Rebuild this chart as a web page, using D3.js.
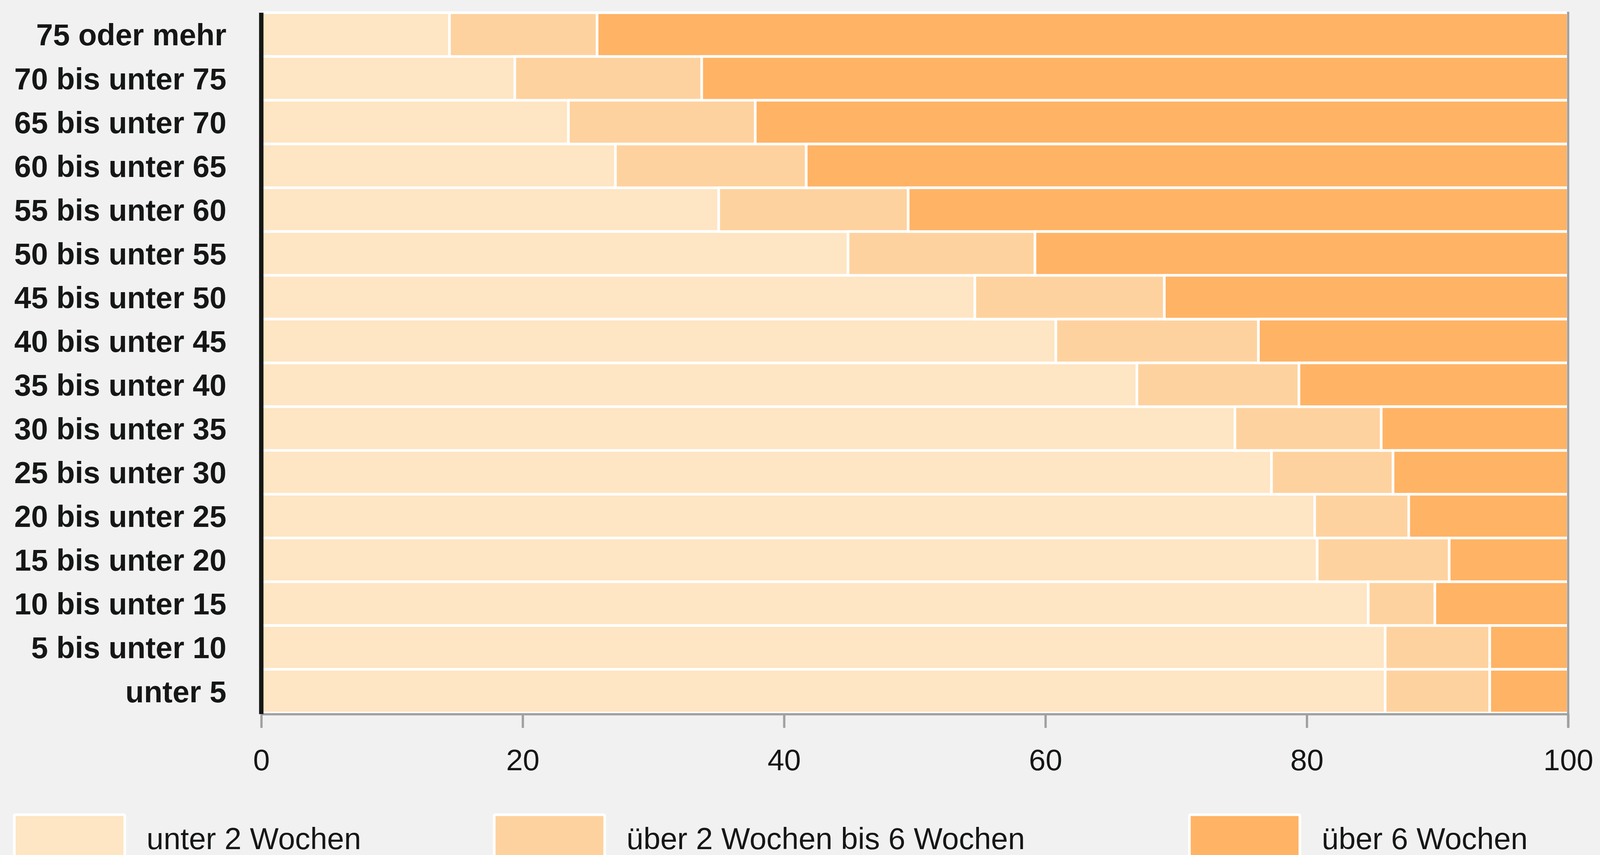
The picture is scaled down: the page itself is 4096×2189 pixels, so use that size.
<!DOCTYPE html>
<html>
<head>
<meta charset="utf-8">
<script src="https://cdn.jsdelivr.net/npm/d3@7"></script>
<style>
  html, body { margin: 0; padding: 0; background: #f1f1f1; overflow: hidden; }
  svg { display: block; }
</style>
</head>
<body>
<svg id="chart" width="4096" height="2189"></svg>
<script>
// ---- data ----
const categories = [
  "75 oder mehr", "70 bis unter 75", "65 bis unter 70", "60 bis unter 65",
  "55 bis unter 60", "50 bis unter 55", "45 bis unter 50", "40 bis unter 45",
  "35 bis unter 40", "30 bis unter 35", "25 bis unter 30", "20 bis unter 25",
  "15 bis unter 20", "10 bis unter 15", "5 bis unter 10", "unter 5"
];
const under2Weeks = [14.4, 19.4, 23.5, 27.1, 35.0, 44.9, 54.6, 60.8, 67.0, 74.5, 77.3, 80.6, 80.8, 84.7, 86.0, 86.0];
const weeks2to6   = [11.3, 14.3, 14.3, 14.6, 14.5, 14.3, 14.5, 15.5, 12.4, 11.2,  9.3,  7.2, 10.1,  5.1,  8.0,  8.0];
const over6Weeks  = [74.3, 66.3, 62.2, 58.3, 50.5, 40.8, 30.9, 23.7, 20.6, 14.3, 13.4, 12.2,  9.1, 10.2,  6.0,  6.0];
const seriesNames = ["unter 2 Wochen", "über 2 Wochen bis 6 Wochen", "über 6 Wochen"];
const xTicks = [0, 20, 40, 60, 80, 100];

// ---- styling / layout ----
const S = 0.834;               // reference -> window scale
const colors = ["#fee5c3", "#fed29e", "#ffb365"];
const textColor = "#151716";
const gray = "#a0a0a0";
const fontFamily = "'Liberation Sans', Arial, Helvetica, sans-serif";

const svg = d3.select("#chart");
svg.append("rect").attr("width", 4096).attr("height", 2189).attr("fill", "#f1f1f1");

const keys = ["u2", "w26", "o6"];
const table = categories.map((c, i) => ({ cat: c, u2: under2Weeks[i], w26: weeks2to6[i], o6: over6Weeks[i] }));
const stacked = d3.stack().keys(keys)(table);

const x = d3.scaleLinear().domain([0, 100]).range([802 * S, 4813.5 * S]);
const y = d3.scaleBand().domain(categories).range([39 * S, 2189 * S]).padding(0);

// bars
const layers = svg.append("g").selectAll("g").data(stacked).join("g")
  .attr("fill", (d, i) => colors[i]);
layers.selectAll("rect").data(d => d).join("rect")
  .attr("x", d => x(d[0]))
  .attr("y", d => y(d.data.cat))
  .attr("width", d => x(d[1]) - x(d[0]))
  .attr("height", y.bandwidth())
  .attr("stroke", "#ffffff")
  .attr("stroke-width", 8 * S);

// right border line at 100
svg.append("line")
  .attr("x1", x(100)).attr("x2", x(100))
  .attr("y1", 36 * S).attr("y2", 2234 * S)
  .attr("stroke", gray).attr("stroke-width", 7 * S);

// bottom x axis
const xAxis = d3.axisBottom(x).tickValues(xTicks).tickSize(42 * S).tickPadding(0).tickFormat(d3.format("d"));
const gx = svg.append("g").attr("transform", `translate(0,${2192.5 * S})`).call(xAxis);
gx.select(".domain").attr("stroke", gray).attr("stroke-width", 7 * S)
  .attr("d", `M${x(0)},0H${x(100) + 3.5 * S}`);
gx.selectAll(".tick line").attr("stroke", gray).attr("stroke-width", 7 * S);
gx.selectAll(".tick text")
  .attr("fill", textColor)
  .attr("font-family", fontFamily)
  .attr("font-size", 92 * S)
  .attr("dy", null)
  .attr("y", (2365 - 2192.5) * S);

// black y axis line
svg.append("line")
  .attr("x1", x(0)).attr("x2", x(0))
  .attr("y1", 39 * S).attr("y2", 2192 * S)
  .attr("stroke", textColor).attr("stroke-width", 13.5 * S);

// y category labels
const yAxis = d3.axisLeft(y).tickSize(0).tickPadding(0);
const gy = svg.append("g").attr("transform", `translate(${695 * S},0)`).call(yAxis);
gy.select(".domain").remove();
gy.selectAll(".tick text")
  .attr("fill", textColor)
  .attr("font-family", fontFamily)
  .attr("font-weight", "bold")
  .attr("font-size", 93 * S)
  .attr("x", 0)
  .attr("dy", "0.36em");

// legend
const legendX = [40, 1513, 3647];
const lg = svg.append("g").selectAll("g").data(seriesNames).join("g")
  .attr("transform", (d, i) => `translate(${legendX[i] * S},0)`);
lg.append("rect")
  .attr("x", 4 * S).attr("y", 2501 * S)
  .attr("width", 339 * S).attr("height", 200 * S)
  .attr("rx", 3 * S)
  .attr("fill", (d, i) => colors[i])
  .attr("stroke", "#ffffff").attr("stroke-width", 8 * S);
lg.append("text")
  .attr("x", 410 * S).attr("y", 2607 * S)
  .attr("fill", textColor)
  .attr("font-family", fontFamily)
  .attr("font-size", 93.5 * S)
  .text(d => d);
</script>
</body>
</html>
